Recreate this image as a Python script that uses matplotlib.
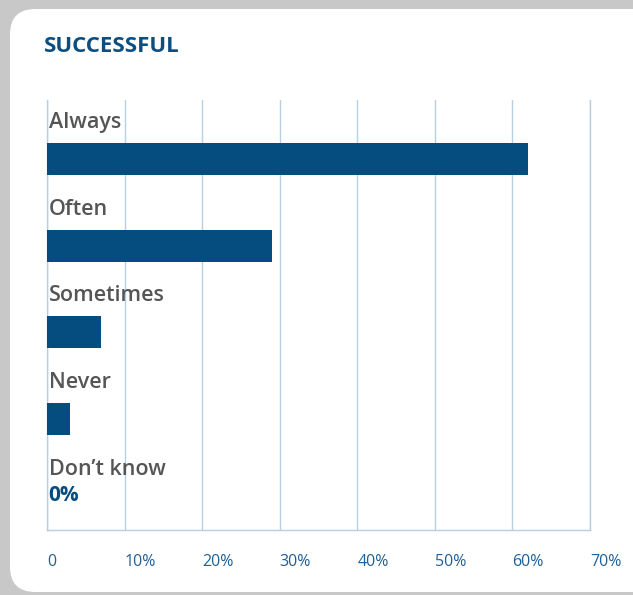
import matplotlib.pyplot as plt
from matplotlib.patches import FancyBboxPatch

plt.rcParams['font.family'] = ['Open Sans', 'DejaVu Sans']

categories = ["Always", "Often", "Sometimes", "Never", "Don\u2019t know"]
values = [62, 29, 7, 3, 0]
ticks = [0, 10, 20, 30, 40, 50, 60, 70]
tick_labels = ["0", "10%", "20%", "30%", "40%", "50%", "60%", "70%"]

bar_color = "#064d7f"
grid_color = "#b7cfe1"
label_color = "#555555"
tick_color = "#1f5f97"

fig = plt.figure(figsize=(6.33, 5.95), dpi=100)
fig.patch.set_facecolor("#c8c8c8")

# white card (behind the axes)
card = FancyBboxPatch((10/633, 3/595), 650/633, 583/595,
                      boxstyle="round,pad=0,rounding_size=0.04",
                      transform=fig.transFigure, facecolor="white",
                      edgecolor="none", mutation_aspect=633/595, zorder=-10)
fig.patches.append(card)

fig.text(44/633, 1 - 46/595, "SUCCESSFUL", fontsize=16, fontweight="bold",
         color="#0b4f82", va="center", ha="left")

ax = fig.add_axes([47/633, 1 - 530/595, 543/633, 430/595])
ax.set_facecolor("none")

ypos = list(range(len(categories)))
ax.barh(ypos, values, height=0.37, color=bar_color, zorder=3)

for i, (cat, v) in enumerate(zip(categories, values)):
    ax.text(0.2, i - 0.42, cat, fontsize=15.5, fontweight="semibold",
            color=label_color, va="center", ha="left", zorder=4)
    if v == 0:
        ax.text(0.1, i - 0.12, "0%", fontsize=15, fontweight="bold",
                color=bar_color, va="center", ha="left", zorder=4)

ax.set_xlim(0, 70)
ax.set_ylim(4.28, -0.68)
ax.set_xticks(ticks)
ax.set_xticklabels(tick_labels)
ax.set_yticks([])
ax.grid(axis="x", color=grid_color, linewidth=1, zorder=0)
ax.axvline(70, color=grid_color, linewidth=1, clip_on=False, zorder=0)
ax.tick_params(axis="x", length=0, pad=17, labelsize=11.5, labelcolor=tick_color)
for lbl in ax.get_xticklabels():
    lbl.set_horizontalalignment("left")
for s in ["top", "right"]:
    ax.spines[s].set_visible(False)
for s in ["bottom", "left"]:
    ax.spines[s].set_color(grid_color)
    ax.spines[s].set_linewidth(1)

fig.savefig("out.png", dpi=100, facecolor=fig.get_facecolor())
